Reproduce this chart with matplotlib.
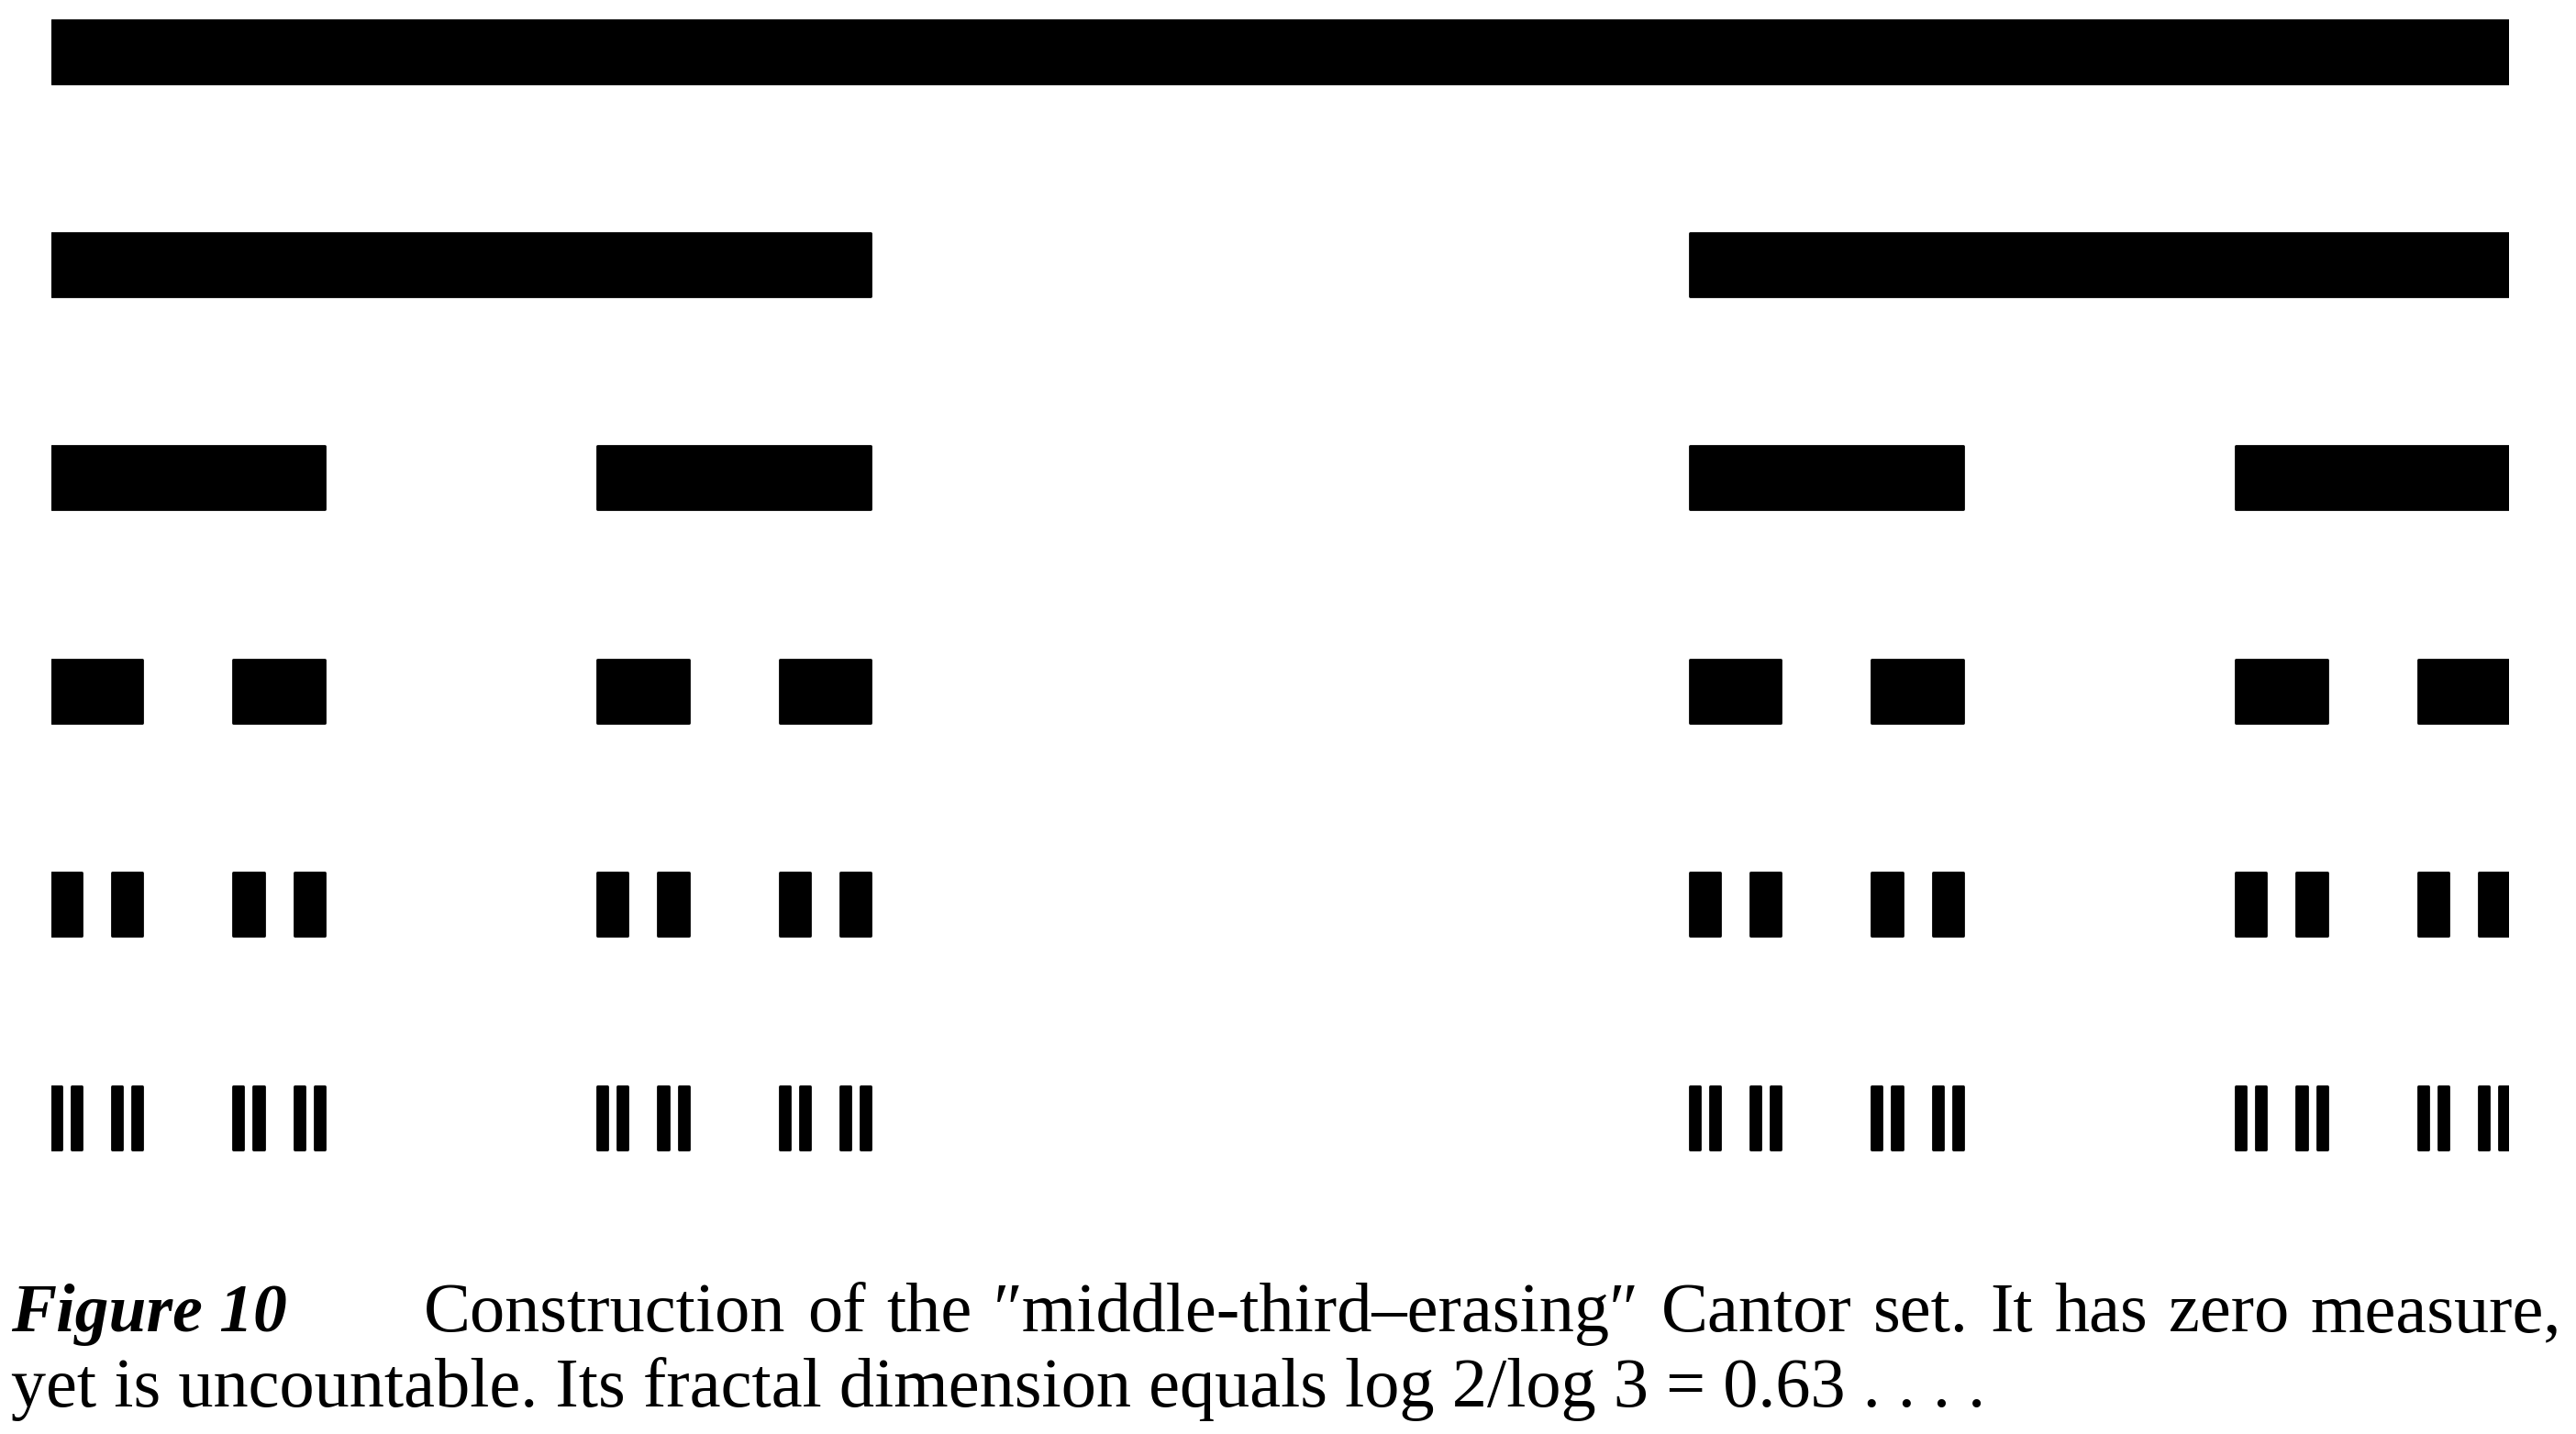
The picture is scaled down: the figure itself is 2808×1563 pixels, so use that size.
import matplotlib
matplotlib.use("Agg")
import matplotlib.pyplot as plt

# ---- data -------------------------------------------------------------
levels = [0, 1, 2, 3, 4, 5]          # construction stages shown (top to bottom)
unit_interval = (0.0, 1.0)           # starting segment
kept_fraction = 1.0 / 3.0            # each kept piece is one third long

caption_label = "Figure 10"
caption_line1 = "Construction of the \u2033middle-third\u2013erasing\u2033 Cantor set. It has zero measure,"
caption_line2 = "yet is uncountable. Its fractal dimension equals log 2/log 3 = 0.63 . . . ."


def cantor_stage(n):
    segs = [unit_interval]
    for _ in range(n):
        nxt = []
        for a, b in segs:
            w = (b - a) * kept_fraction
            nxt.append((a, a + w))
            nxt.append((b - w, b))
        segs = nxt
    return segs


# ---- figure -------------------------------------------------------------
W, H = 2808, 1563
DPI = 100
fig = plt.figure(figsize=(W / DPI, H / DPI), dpi=DPI, facecolor="white")

x0_px, x1_px = 56, 2735
row0_px, row_step_px = 56, 232.4
ax = fig.add_axes([x0_px / W, 0, (x1_px - x0_px) / W, 1])
ax.set_xlim(0, 1)
ax.set_ylim((H - row0_px) / row_step_px, -row0_px / row_step_px)
ax.axis("off")

edge_pt = 2.0
bar_h = 69 / row_step_px
for lev in levels:
    segs = cantor_stage(lev)
    bars = ax.barh([lev] * len(segs), [b - a for a, b in segs],
                   left=[a for a, b in segs], height=bar_h,
                   color="black", edgecolor="black", linewidth=edge_pt)
    for p in bars:
        p.set_joinstyle("round")

# ---- caption ------------------------------------------------------------
serif = ["Liberation Serif", "DejaVu Serif"]
fs = 55
fig.text(12 / W, 1 - 1451 / H, caption_label, fontsize=53, family=serif,
         fontweight="bold", fontstyle="italic", ha="left", va="baseline")

# first line: justified between x=462 and x=2792 px
words = caption_line1.split(" ")
wtexts = [fig.text(0, 1 - 1451 / H, w, fontsize=fs, family=serif,
                   ha="left", va="baseline") for w in words]
fig.canvas.draw()
renderer = fig.canvas.get_renderer()
widths = [t.get_window_extent(renderer).width for t in wtexts]
left_px, right_px = 462, 2792
gap = (right_px - left_px - sum(widths)) / (len(words) - 1)
xpos = left_px
for t, wd in zip(wtexts, widths):
    t.set_x(xpos / W)
    xpos += wd + gap

fig.text(12 / W, 1 - 1533 / H, caption_line2, fontsize=fs, family=serif,
         ha="left", va="baseline")

fig.savefig("out.png", dpi=DPI, facecolor="white")
